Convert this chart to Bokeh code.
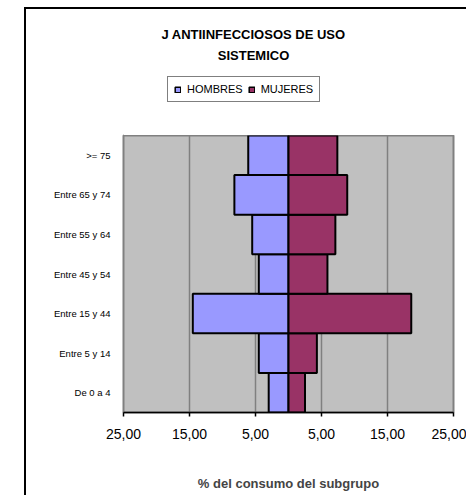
from bokeh.plotting import figure
from bokeh.layouts import column
from bokeh.models import (FixedTicker, Legend, LegendItem, Label, Range1d, FactorRange,
                          ColumnDataSource)
from bokeh.embed import file_html
from bokeh.resources import INLINE

categories = ["De 0 a 4", "Entre 5 y 14", "Entre 15 y 44", "Entre 45 y 54",
              "Entre 55 y 64", "Entre 65 y 74", ">= 75"]
hombres = [3.0, 4.5, 14.5, 4.5, 5.5, 8.2, 6.1]
mujeres = [2.5, 4.3, 18.6, 5.9, 7.1, 8.9, 7.4]
tick_values = [-25, -15, -5, 5, 15, 25]
tick_labels = ["25,00", "15,00", "5,00", "5,00", "15,00", "25,00"]
title_lines = ["J ANTIINFECCIOSOS DE USO", "SISTEMICO"]
x_label = "% del consumo del subgrupo"
series_names = ["HOMBRES", "MUJERES"]
series_colors = ["#9999FF", "#993366"]

FONT = "Liberation Sans"
W = 440
HEAD_H = 126
MAIN_H = 360
FRAME_L = 123   # page x of plot-area left edge (header frame aligns with it)
FRAME_R = 453

# ---------------- header (title + legend) ----------------
head = figure(width=W, height=HEAD_H, output_backend="svg", toolbar_location=None,
              title=None, x_range=Range1d(FRAME_L, FRAME_R), y_range=Range1d(0, HEAD_H),
              min_border=0, min_border_left=0, min_border_right=0,
              min_border_top=0, min_border_bottom=0)
head.axis.visible = False
head.grid.visible = False
head.outline_line_color = None
head.background_fill_color = "white"
head.border_fill_color = "white"

# legend proxies: one row each, kept below the header's visible y range
items = []
for name, col, vals in zip(series_names, series_colors, [hombres, mujeres]):
    proxy = ColumnDataSource(dict(y=[-HEAD_H], left=[0], right=[vals[0]]))
    r = head.hbar(y="y", left="left", right="right", height=1, source=proxy,
                  fill_color=col, line_color="black", line_width=1.5)
    items.append(LegendItem(label=name, renderers=[r]))

legend = Legend(items=items, orientation="horizontal", location=(44, 33))
legend.label_text_font = FONT
legend.label_text_font_size = "11px"
legend.label_text_color = "black"
legend.glyph_width = 7
legend.glyph_height = 7
legend.label_standoff = 6
legend.spacing = 5
legend.padding = 6
legend.margin = 0
legend.border_line_color = "black"
legend.border_line_width = 1
legend.background_fill_color = "white"
legend.label_height = 12
head.add_layout(legend, "center")

for txt, yy in zip(title_lines, [101, 80]):
    head.add_layout(Label(x=253, y=yy, text=txt, text_align="center",
                          text_baseline="middle", text_font=FONT,
                          text_font_size="13px", text_font_style="bold",
                          text_color="black"))

# ---------------- main chart ----------------
src = ColumnDataSource(dict(
    cat=categories,
    h_left=[-v for v in hombres],
    m_right=mujeres,
))

p = figure(width=W, height=MAIN_H, output_backend="svg", toolbar_location=None,
           title=None, x_range=Range1d(-25, 25), y_range=FactorRange(*categories),
           min_border_left=97, min_border_right=13, min_border_top=0, min_border_bottom=83)

p.background_fill_color = "#C0C0C0"
p.border_fill_color = "white"
p.outline_line_color = "#808080"
p.outline_line_width = 2

p.hbar(y="cat", left="h_left", right=0, height=1.0, source=src,
       fill_color=series_colors[0], line_color="black", line_width=2)
p.hbar(y="cat", left=0, right="m_right", height=1.0, source=src,
       fill_color=series_colors[1], line_color="black", line_width=2)

ticker = FixedTicker(ticks=tick_values)
p.xaxis.ticker = ticker
p.xaxis.major_label_overrides = {v: l for v, l in zip(tick_values, tick_labels)}
p.xaxis.major_label_text_font = FONT
p.xaxis.major_label_text_font_size = "14px"
p.xaxis.major_label_text_color = "black"
p.xaxis.axis_line_color = "black"
p.xaxis.axis_line_width = 1.5
p.xaxis.major_tick_out = 4
p.xaxis.major_tick_in = 0
p.xaxis.major_tick_line_color = "black"
p.xaxis.major_tick_line_width = 1.5
p.xaxis.minor_tick_line_color = None
p.xaxis.major_label_standoff = 12
p.xaxis.axis_label = x_label
p.xaxis.axis_label_text_font = FONT
p.xaxis.axis_label_text_font_size = "13px"
p.xaxis.axis_label_text_font_style = "bold"
p.xaxis.axis_label_standoff = 34

p.xgrid.ticker = ticker
p.xgrid.grid_line_color = "#808080"
p.xgrid.grid_line_width = 1.5
p.ygrid.grid_line_color = None

p.yaxis.axis_line_color = None
p.yaxis.major_tick_line_color = None
p.yaxis.minor_tick_line_color = None
p.yaxis.major_label_text_font = FONT
p.yaxis.major_label_text_font_size = "9.5px"
p.yaxis.major_label_text_color = "black"
p.yaxis.major_label_standoff = 7

layout = column(head, p, spacing=0, margin=(7, 0, 0, 24),
                styles={"border-left": "2px solid black", "border-top": "2px solid black"})

open("out.html", "w").write(file_html(layout, INLINE))
